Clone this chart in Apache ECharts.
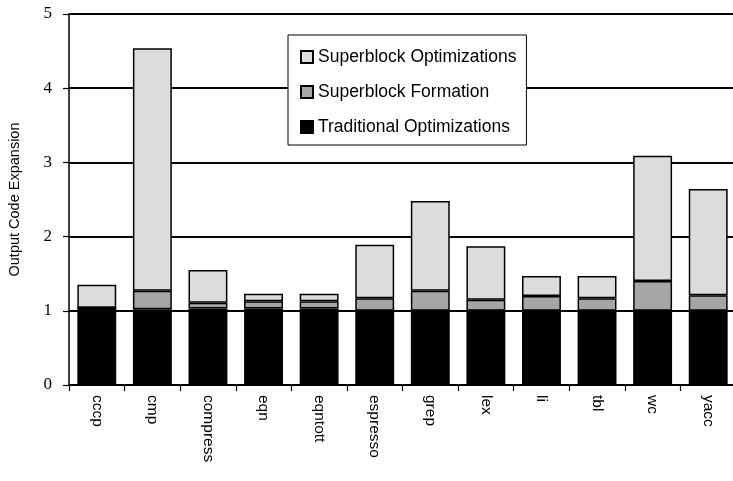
<!DOCTYPE html>
<html>
<head>
<meta charset="utf-8">
<title>Output Code Expansion</title>
<script src="https://cdn.jsdelivr.net/npm/echarts@6/dist/echarts.min.js"></script>
<style>
  html, body { margin: 0; padding: 0; background: #fff; }
  #chart { width: 733px; height: 481px; }
</style>
</head>
<body>
<div id="chart"></div>
<script>
// Benchmarks on the x axis
const benchmarks = ['cccp', 'cmp', 'compress', 'eqn', 'eqntott', 'espresso',
                    'grep', 'lex', 'li', 'tbl', 'wc', 'yacc'];

// Stacked contributions to code expansion (segments, bottom to top)
const traditional = [1.04, 1.02, 1.03, 1.03, 1.03, 1.00, 1.00, 1.00, 1.00, 1.00, 1.00, 1.00];
const formation   = [0.00, 0.25, 0.08, 0.10, 0.10, 0.17, 0.27, 0.15, 0.20, 0.17, 0.40, 0.21];
const superOpt    = [0.31, 3.27, 0.44, 0.10, 0.10, 0.72, 1.21, 0.72, 0.27, 0.30, 1.69, 1.43];

const yTicks = [0, 1, 2, 3, 4, 5];

const names = ['Superblock Optimizations', 'Superblock Formation', 'Traditional Optimizations'];

const sans = 'Liberation Sans';
const serif = 'Liberation Serif';

const chart = echarts.init(document.getElementById('chart'));

function barSeries(name, data, color) {
  return {
    name: name,
    type: 'bar',
    stack: 'total',
    data: data,
    barWidth: '70%',
    itemStyle: { color: color, borderColor: '#000', borderWidth: 1.5 },
    emphasis: { disabled: true }
  };
}

chart.setOption({
  animation: false,
  backgroundColor: '#fff',
  grid: {
    left: 69, right: -3, top: 14, bottom: 96,
    containLabel: false,
    outerBoundsMode: 'none'
  },
  legend: {
    data: names,
    orient: 'vertical',
    left: 288,
    top: 35,
    padding: [13, 10, 9, 12],
    itemWidth: 12,
    itemHeight: 12,
    itemGap: 17,
    backgroundColor: '#fff',
    borderColor: '#000',
    borderWidth: 1,
    icon: 'rect',
    textStyle: { fontFamily: sans, fontSize: 17.5, color: '#000' }
  },
  xAxis: {
    type: 'category',
    data: benchmarks,
    axisLine: { lineStyle: { color: '#000', width: 1.5 } },
    axisTick: { show: true, length: 6, lineStyle: { color: '#000', width: 1.2 } },
    axisLabel: {
      interval: 0,
      rotate: -90,
      margin: 10,
      fontFamily: sans,
      fontSize: 15.5,
      color: '#000'
    },
    splitLine: { show: false }
  },
  yAxis: {
    type: 'value',
    min: yTicks[0],
    max: yTicks[yTicks.length - 1],
    interval: 1,
    name: 'Output Code Expansion',
    nameLocation: 'middle',
    nameGap: 47,
    nameRotate: 90,
    nameTextStyle: { fontFamily: sans, fontSize: 14.5, color: '#000' },
    axisLine: { show: true, lineStyle: { color: '#000', width: 1.5 } },
    axisTick: { show: true, length: 6, lineStyle: { color: '#000', width: 1.2 } },
    axisLabel: {
      margin: 17,
      fontFamily: serif,
      fontSize: 17,
      color: '#000'
    },
    splitLine: { show: true, lineStyle: { color: '#000', width: 1.8 } }
  },
  series: [
    barSeries(names[2], traditional, '#000'),
    barSeries(names[1], formation, '#a6a6a6'),
    barSeries(names[0], superOpt, '#dcdcdc')
  ]
});
</script>
</body>
</html>
